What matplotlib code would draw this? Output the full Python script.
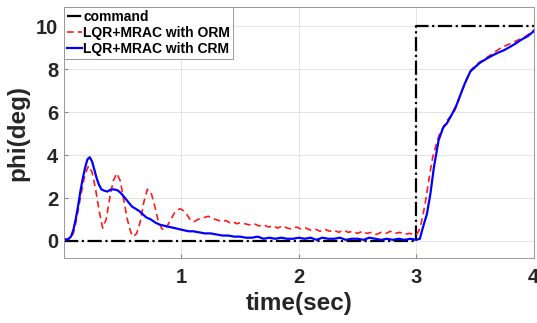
import matplotlib
matplotlib.use("Agg")
import matplotlib.pyplot as plt

plt.rcParams['font.family'] = ['Liberation Sans', 'DejaVu Sans']

# reference command (step at 3 s)
cmd_t = [0.0, 3.0, 3.0, 4.0]
cmd_phi = [0.0, 0.0, 10.0, 10.0]

# LQR+MRAC with ORM (red dashed)
orm_t = [0.00, 0.02, 0.04, 0.06, 0.08, 0.10, 0.12, 0.14, 0.16, 0.18,
         0.21, 0.24, 0.27, 0.30, 0.33, 0.36, 0.39, 0.42, 0.45, 0.48,
         0.51, 0.54, 0.57, 0.59, 0.62, 0.65, 0.68, 0.71, 0.74, 0.77,
         0.80, 0.83, 0.85, 0.88, 0.91, 0.94, 0.97, 0.99, 1.02, 1.05,
         1.08, 1.11, 1.14, 1.17, 1.20, 1.23, 1.26, 1.29, 1.32, 1.35,
         1.38, 1.41, 1.44, 1.47, 1.50, 1.54, 1.58, 1.62, 1.66, 1.70,
         1.74, 1.78, 1.82, 1.86, 1.90, 1.94, 1.98, 2.02, 2.06, 2.10,
         2.14, 2.18, 2.22, 2.26, 2.30, 2.34, 2.38, 2.42, 2.46, 2.50,
         2.54, 2.58, 2.62, 2.66, 2.70, 2.74, 2.78, 2.82, 2.86, 2.90,
         2.94, 2.98, 3.00, 3.02, 3.04, 3.06, 3.08, 3.10, 3.12, 3.14,
         3.16, 3.18, 3.20, 3.23, 3.26, 3.29, 3.32, 3.35, 3.38, 3.41,
         3.44, 3.47, 3.50, 3.53, 3.56, 3.60, 3.64, 3.68, 3.72, 3.76,
         3.80, 3.84, 3.88, 3.92, 3.96, 4.00]
orm_phi = [0.15, 0.05, 0.10, 0.15, 0.35, 0.80, 1.40, 2.00, 2.60, 3.10,
           3.50, 3.20, 2.40, 1.40, 0.60, 1.00, 2.00, 2.80, 3.15, 2.80,
           1.90, 1.00, 0.40, 0.20, 0.35, 0.90, 1.80, 2.40, 2.30, 1.70,
           1.00, 0.60, 0.50, 0.70, 1.00, 1.30, 1.45, 1.50, 1.40, 1.20,
           0.95, 0.90, 1.00, 1.05, 1.10, 1.15, 1.05, 1.00, 0.95, 0.90,
           0.95, 0.85, 0.90, 0.80, 0.85, 0.80, 0.75, 0.80, 0.70, 0.75,
           0.65, 0.70, 0.60, 0.70, 0.60, 0.55, 0.65, 0.55, 0.60, 0.50,
           0.55, 0.45, 0.55, 0.45, 0.50, 0.40, 0.50, 0.40, 0.45, 0.35,
           0.45, 0.35, 0.40, 0.30, 0.40, 0.35, 0.45, 0.35, 0.40, 0.30,
           0.35, 0.30, 0.30, 0.45, 0.80, 1.30, 1.90, 2.60, 3.30, 3.90,
           4.30, 4.70, 5.00, 5.30, 5.60, 5.80, 6.00, 6.40, 6.90, 7.30,
           7.70, 8.00, 8.15, 8.30, 8.40, 8.55, 8.70, 8.85, 9.00, 9.10,
           9.20, 9.30, 9.40, 9.50, 9.65, 9.85]

# LQR+MRAC with CRM (blue solid)
crm_t = [0.00, 0.02, 0.04, 0.06, 0.08, 0.10, 0.12, 0.14, 0.16, 0.18,
         0.20, 0.22, 0.24, 0.26, 0.28, 0.30, 0.32, 0.34, 0.37, 0.40,
         0.43, 0.46, 0.49, 0.52, 0.55, 0.58, 0.61, 0.64, 0.67, 0.70,
         0.74, 0.78, 0.82, 0.86, 0.90, 0.94, 0.98, 1.02, 1.06, 1.10,
         1.15, 1.20, 1.25, 1.30, 1.35, 1.40, 1.45, 1.50, 1.55, 1.60,
         1.65, 1.70, 1.75, 1.80, 1.85, 1.90, 1.95, 2.00, 2.05, 2.10,
         2.15, 2.20, 2.25, 2.30, 2.35, 2.40, 2.45, 2.50, 2.55, 2.60,
         2.65, 2.70, 2.75, 2.80, 2.85, 2.90, 2.95, 3.00, 3.03, 3.06,
         3.09, 3.12, 3.15, 3.19, 3.23, 3.26, 3.30, 3.34, 3.37, 3.41,
         3.46, 3.50, 3.54, 3.60, 3.65, 3.69, 3.75, 3.83, 3.90, 3.95,
         4.00]
crm_phi = [0.10, 0.05, 0.10, 0.20, 0.50, 1.00, 1.60, 2.30, 2.90, 3.40,
           3.80, 3.90, 3.70, 3.30, 2.90, 2.60, 2.40, 2.35, 2.30, 2.40,
           2.40, 2.35, 2.20, 2.00, 1.80, 1.60, 1.50, 1.40, 1.25, 1.10,
           1.00, 0.85, 0.75, 0.70, 0.65, 0.60, 0.55, 0.50, 0.45, 0.45,
           0.40, 0.35, 0.35, 0.30, 0.25, 0.25, 0.20, 0.20, 0.15, 0.15,
           0.20, 0.10, 0.15, 0.10, 0.15, 0.10, 0.10, 0.15, 0.10, 0.15,
           0.05, 0.15, 0.10, 0.10, 0.15, 0.05, 0.10, 0.10, 0.05, 0.15,
           0.10, 0.05, 0.10, 0.05, 0.10, 0.05, 0.10, 0.05, 0.10, 0.70,
           1.25, 2.20, 3.44, 4.70, 5.30, 5.48, 5.87, 6.30, 6.73, 7.30,
           7.90, 8.10, 8.30, 8.50, 8.65, 8.76, 8.90, 9.15, 9.40, 9.55,
           9.78]

xticks = [1, 2, 3, 4]
yticks = [0, 2, 4, 6, 8, 10]

fig = plt.figure(figsize=(5.37, 3.23), dpi=100)
ax = fig.add_axes([0.119, 0.201, 0.875, 0.777])

ax.plot(cmd_t, cmd_phi, color='black', linestyle='-.', linewidth=1.6, label='command')
ax.plot(orm_t, orm_phi, color='#ff1a1a', linestyle=(0, (4, 2.5)), linewidth=1.2, label='LQR+MRAC with ORM')
ax.plot(crm_t, crm_phi, color='#0000ff', linestyle='-', linewidth=1.6, label='LQR+MRAC with CRM')

ax.set_xlim(0, 4)
ax.set_ylim(-0.8, 10.9)
ax.set_xticks(xticks)
ax.set_yticks(yticks)
ax.grid(True, color='#e3e3e3', linewidth=0.7)
ax.set_axisbelow(True)
ax.tick_params(direction='in', length=3, color='#888888', labelsize=14.5)
ax.tick_params(axis='x', pad=7)
ax.tick_params(axis='y', pad=4)
for lbl in ax.get_xticklabels() + ax.get_yticklabels():
    lbl.set_fontweight('bold')
    lbl.set_color('#262626')
for sp in ax.spines.values():
    sp.set_color('#999999')
    sp.set_linewidth(0.7)

ax.set_xlabel('time(sec)', fontsize=17.5, fontweight='bold', color='#262626', labelpad=4)
ax.set_ylabel('phi(deg)', fontsize=17.5, fontweight='bold', color='#262626', labelpad=5)

leg = ax.legend(loc='upper left', borderaxespad=0, fontsize=10, handlelength=1.1,
                handletextpad=0.1, labelspacing=0.15, borderpad=0.2, fancybox=False,
                framealpha=1)
leg.get_frame().set_edgecolor('#999999')
leg.get_frame().set_linewidth(0.7)
for txt in leg.get_texts():
    txt.set_fontweight('bold')

fig.savefig('out.png', dpi=100)
